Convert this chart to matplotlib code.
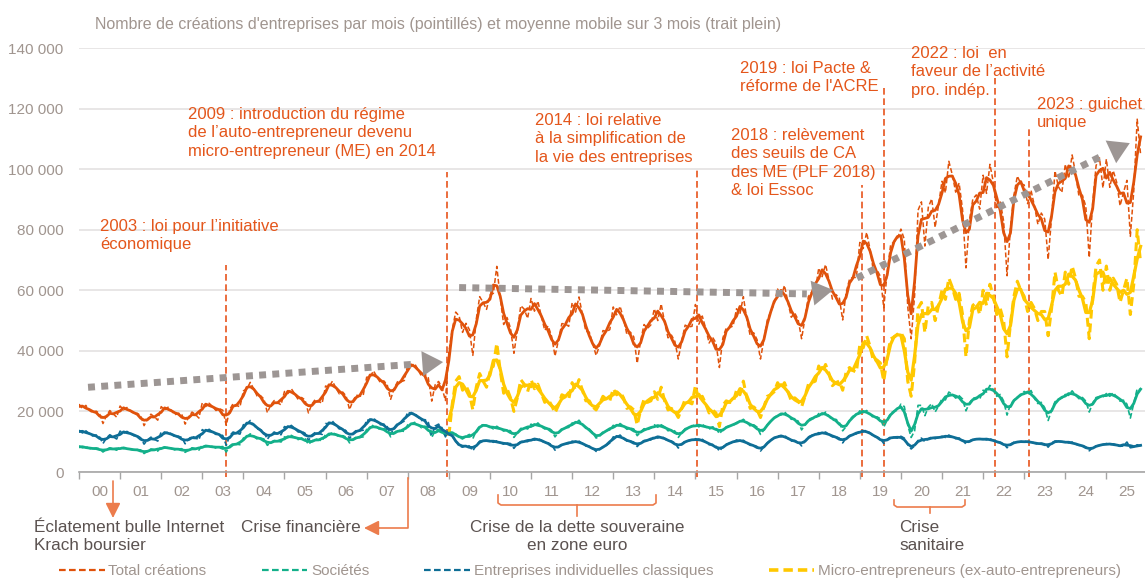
import numpy as np
import pandas as pd
import matplotlib
matplotlib.use("Agg")
import matplotlib.pyplot as plt
from matplotlib.lines import Line2D

plt.rcParams["font.family"] = ["Liberation Sans", "DejaVu Sans"]

# monthly business creations, thousands, Jan 2000 -> Nov 2025
societes = [
    8.6, 8.0, 8.4, 7.8, 7.6, 7.9, 7.7, 6.6, 7.4, 8.0, 7.6, 7.2,            # 2000
    8.3, 7.7, 7.9, 7.5, 7.2, 7.4, 7.3, 6.1, 6.8, 7.6, 7.4, 6.9,            # 2001
    8.4, 7.9, 8.1, 7.8, 7.3, 7.6, 7.7, 6.5, 7.2, 8.0, 7.7, 7.2,            # 2002
    8.9, 8.3, 8.6, 8.4, 7.9, 8.3, 8.4, 6.6, 8.6, 9.4, 9.2, 9.0,            # 2003
    11.2, 11.6, 12.6, 11.8, 10.9, 11.2, 10.9, 8.8, 9.8, 10.4, 10.2, 9.9,   # 2004
    11.6, 11.3, 12.1, 11.4, 10.7, 11.2, 11.0, 9.1, 10.2, 10.9, 10.6, 10.3, # 2005
    12.4, 12.1, 13.2, 12.3, 11.6, 12.0, 11.5, 9.6, 10.8, 11.6, 11.4, 11.6, # 2006
    14.1, 14.4, 15.6, 14.8, 13.9, 14.3, 13.8, 11.6, 12.9, 13.8, 13.6, 13.4, # 2007
    15.6, 15.8, 16.4, 15.6, 14.6, 15.1, 14.7, 11.4, 13.6, 14.1, 13.2, 12.0, # 2008
    13.6, 12.8, 12.6, 11.4, 10.9, 11.8, 12.4, 11.0, 13.6, 15.2, 15.6, 15.4, # 2009
    15.0, 14.2, 15.1, 14.3, 13.5, 14.0, 13.6, 11.4, 12.9, 14.4, 14.6, 14.2, # 2010
    15.8, 15.1, 16.2, 15.0, 14.2, 14.6, 13.8, 11.6, 13.1, 14.3, 14.6, 14.7, # 2011
    16.2, 16.0, 17.1, 15.6, 14.4, 14.2, 13.0, 11.2, 11.8, 13.3, 13.6, 13.9, # 2012
    15.4, 14.9, 16.0, 15.2, 14.1, 14.5, 14.2, 12.0, 13.2, 14.3, 14.0, 14.5, # 2013
    15.6, 14.8, 15.6, 14.9, 13.6, 14.0, 13.5, 11.4, 13.0, 14.3, 14.6, 15.0, # 2014
    15.8, 14.9, 15.7, 15.0, 14.1, 14.9, 14.6, 12.6, 14.0, 14.9, 15.2, 15.4, # 2015
    16.3, 16.6, 17.4, 16.4, 15.2, 15.6, 14.8, 12.4, 13.9, 15.6, 16.9, 17.8, # 2016
    18.9, 18.8, 19.9, 18.6, 17.4, 17.6, 16.8, 13.9, 15.6, 17.4, 17.8, 17.6, # 2017
    19.3, 18.9, 19.8, 18.5, 17.0, 17.4, 16.4, 13.6, 15.0, 17.2, 18.4, 18.6, # 2018
    20.2, 19.6, 20.3, 19.2, 17.8, 18.2, 17.6, 14.8, 17.2, 19.4, 20.1, 20.4, # 2019
    22.4, 21.6, 15.5, 11.4, 13.6, 22.0, 22.0, 18.6, 21.4, 22.6, 19.8, 21.8, # 2020
    24.2, 23.8, 26.4, 25.6, 24.4, 25.2, 24.1, 20.2, 22.8, 24.3, 24.6, 24.0, # 2021
    27.0, 26.4, 28.6, 27.2, 25.0, 25.6, 23.4, 18.8, 22.4, 23.6, 24.8, 25.2, # 2022
    26.6, 25.8, 26.9, 24.3, 22.6, 23.0, 21.2, 17.0, 20.4, 23.2, 24.0, 24.4, # 2023
    25.6, 25.3, 26.8, 25.4, 24.2, 24.6, 23.4, 19.8, 22.8, 24.6, 24.9, 24.8, # 2024
    25.9, 25.0, 26.2, 24.8, 23.4, 23.7, 22.4, 17.8, 22.6, 27.5, 27.2,       # 2025
]
ei_classiques = [
    13.8, 12.9, 13.6, 12.6, 11.9, 12.2, 11.6, 9.4, 11.2, 12.3, 11.6, 10.9,  # 2000
    13.5, 12.8, 13.4, 12.7, 12.0, 12.0, 11.3, 9.2, 10.6, 11.5, 10.8, 10.2,  # 2001
    13.2, 12.6, 13.3, 12.5, 11.6, 11.8, 11.4, 9.3, 10.9, 11.8, 11.3, 10.6,  # 2002
    14.0, 13.3, 14.1, 13.2, 12.4, 12.6, 12.0, 8.8, 12.0, 13.2, 12.8, 12.5,  # 2003
    15.6, 15.8, 17.0, 15.7, 14.2, 14.0, 13.2, 10.8, 12.4, 13.2, 12.6, 12.3, # 2004
    15.0, 14.6, 15.4, 14.4, 13.2, 13.4, 12.8, 10.4, 12.2, 13.1, 12.7, 12.4, # 2005
    16.0, 15.9, 16.8, 15.5, 14.2, 14.4, 13.6, 11.0, 12.8, 13.8, 13.6, 13.8, # 2006
    17.2, 17.0, 17.8, 16.6, 15.6, 15.8, 15.0, 12.4, 14.6, 16.0, 16.2, 16.8, # 2007
    19.8, 19.2, 19.4, 18.2, 17.0, 17.3, 16.4, 12.0, 15.2, 15.8, 14.6, 11.6, # 2008
    14.0, 11.8, 10.2, 8.6, 8.2, 8.8, 8.6, 7.0, 8.8, 10.2, 10.4, 10.3,       # 2009
    10.4, 9.8, 10.3, 9.7, 9.2, 9.5, 9.4, 7.8, 9.3, 10.0, 10.2, 10.0,        # 2010
    11.0, 10.5, 11.2, 10.4, 9.6, 9.6, 9.0, 7.2, 8.4, 9.2, 9.3, 9.4,         # 2011
    10.2, 9.8, 10.2, 9.4, 8.6, 8.5, 7.9, 6.8, 7.4, 8.4, 8.8, 9.6,           # 2012
    11.6, 11.5, 12.2, 11.0, 10.2, 10.2, 9.9, 8.4, 9.6, 10.4, 10.4, 10.6,    # 2013
    11.8, 11.2, 11.9, 11.0, 10.2, 10.2, 9.6, 7.9, 9.3, 10.2, 10.3, 10.6,    # 2014
    11.0, 10.4, 10.8, 9.9, 9.0, 9.1, 8.5, 6.9, 8.2, 9.2, 9.5, 9.8,          # 2015
    10.6, 10.1, 10.5, 9.6, 8.8, 8.9, 8.4, 6.9, 8.3, 9.6, 10.6, 11.2,        # 2016
    12.0, 11.6, 12.2, 11.0, 10.2, 10.4, 10.0, 8.6, 10.2, 11.6, 12.1, 12.2,  # 2017
    13.0, 12.6, 13.2, 12.4, 11.6, 11.7, 11.2, 9.6, 11.2, 12.0, 12.4, 12.6,  # 2018
    13.6, 13.2, 13.8, 12.8, 11.8, 11.6, 11.0, 9.4, 10.8, 11.6, 11.4, 11.2,  # 2019
    11.8, 11.2, 9.0, 7.6, 8.6, 10.4, 11.2, 10.0, 11.0, 11.6, 11.0, 11.4,    # 2020
    11.8, 11.4, 12.2, 11.6, 11.0, 11.2, 10.6, 9.2, 10.2, 10.8, 10.9, 10.8,  # 2021
    11.0, 10.6, 11.0, 10.4, 9.8, 9.8, 9.4, 8.0, 9.2, 9.8, 9.9, 10.0,        # 2022
    10.2, 9.8, 10.1, 9.5, 9.2, 9.5, 9.3, 8.2, 9.6, 10.2, 10.2, 9.9,         # 2023
    10.0, 9.6, 9.9, 9.2, 8.8, 8.8, 8.3, 7.0, 8.0, 8.6, 8.8, 9.0,            # 2024
    9.4, 9.0, 9.3, 8.9, 8.5, 8.6, 9.9, 8.0, 8.2, 9.0, 8.6,                  # 2025
]
# micro-entrepreneurs exist only from Jan 2009
micro = [
    12.0, 22.5, 30.0, 31.5, 27.0, 28.5, 26.0, 20.5, 28.0, 32.5, 30.0, 28.0, # 2009
    33.0, 35.0, 42.5, 33.5, 26.0, 27.5, 24.5, 20.0, 24.5, 30.5, 29.0, 26.5, # 2010
    30.5, 27.5, 29.0, 26.0, 23.0, 24.0, 22.0, 19.5, 22.0, 25.5, 25.0, 24.0, # 2011
    29.5, 27.0, 30.5, 27.0, 23.5, 23.5, 21.5, 20.5, 22.5, 25.0, 24.0, 23.5, # 2012
    27.5, 25.5, 26.5, 24.5, 21.0, 21.5, 20.5, 15.5, 20.5, 24.0, 23.0, 23.5, # 2013
    26.5, 24.0, 28.0, 23.5, 20.5, 21.0, 20.0, 18.0, 21.0, 24.0, 23.0, 22.5, # 2014
    28.5, 23.5, 25.0, 22.5, 19.5, 20.5, 19.5, 15.0, 22.0, 23.5, 23.0, 23.0, # 2015
    27.0, 25.5, 30.0, 24.5, 21.0, 21.5, 20.5, 18.0, 21.5, 25.0, 25.5, 26.5, # 2016
    29.5, 27.5, 29.5, 26.5, 23.5, 24.5, 23.5, 21.5, 25.0, 29.0, 29.5, 30.0, # 2017
    35.0, 33.0, 35.5, 32.5, 28.5, 29.5, 30.0, 27.0, 33.0, 34.5, 33.5, 33.0, # 2018
    42.0, 41.0, 45.0, 41.5, 36.5, 37.0, 36.0, 30.0, 38.0, 44.0, 44.5, 45.5, # 2019
    46.0, 44.0, 30.0, 25.0, 36.0, 54.0, 56.0, 46.0, 55.0, 56.0, 50.0, 55.0, # 2020
    60.0, 57.0, 64.0, 61.0, 57.0, 59.0, 52.0, 38.0, 50.0, 55.0, 56.0, 52.0, # 2021
    60.0, 55.0, 62.0, 58.0, 52.0, 54.0, 50.0, 38.0, 49.0, 58.0, 63.0, 60.0, # 2022
    58.0, 53.0, 56.0, 54.0, 50.0, 53.0, 53.0, 45.0, 54.0, 66.0, 60.0, 58.0, # 2023
    66.0, 62.0, 68.0, 64.0, 58.0, 58.0, 56.0, 44.0, 58.0, 68.0, 70.0, 60.0, # 2024
    68.0, 60.0, 64.0, 62.0, 56.0, 60.0, 64.0, 52.0, 62.0, 80.0, 69.0,       # 2025
]

# policy events: date (fractional year), top of the dashed marker, label
event_dates = [2003.57, 2008.95, 2015.05, 2019.05, 2019.58, 2022.29, 2023.12]
event_tops = [68400, 99000, 99700, 94800, 126800, 130000, 113600]
event_texts = [
    "2003 : loi pour l\u2019initiative\néconomique",
    "2009 : introduction du régime\nde l\u2019auto-entrepreneur devenu\nmicro-entrepreneur (ME) en 2014",
    "2014 : loi relative\nà la simplification de\nla vie des entreprises",
    "2018 : relèvement\ndes seuils de CA\ndes ME (PLF 2018)\n& loi Essoc",
    "2019 : loi Pacte &\nréforme de l'ACRE",
    "2022 : loi  en\nfaveur de l\u2019activité\npro. indép.",
    "2023 : guichet\nunique",
]
# top-left corner of each label, pixels
event_text_pos = [(100, 219), (188, 107), (535, 113), (731, 128), (740, 61), (911, 46), (1037, 97)]

# grey trend arrows: dotted start, dotted end, arrow tip (year, value)
trend_start = [(2000.22, 27970), (2009.25, 60900), (2018.93, 64060)]
trend_end = [(2008.17, 35600), (2017.71, 58800), (2024.84, 104000)]
trend_tip = [(2008.86, 36300), (2018.35, 60100), (2025.57, 108600)]

ORANGE = "#E0520B"
GREEN = "#13B08A"
BLUE = "#0E6E96"
YELLOW = "#FFC800"
TXT_OR = "#E4561B"
GREY_TXT = "#A0958F"
DARK_TXT = "#5B5250"
TREND = "#9D9694"

W, H = 1145, 580


def px(x, y):
    return x / W, 1 - y / H


n = len(societes)
dates = pd.date_range("2000-01-01", periods=n, freq="MS")
t = np.asarray(dates.year + (dates.month - 1) / 12)
soc = pd.Series(societes) * 1000
ei = pd.Series(ei_classiques) * 1000
me = pd.Series([np.nan] * (n - len(micro)) + micro) * 1000
total = soc + ei + me.fillna(0)  # total = sociétés + EI classiques + micro


def mm3(s):
    m = s.rolling(3, center=True, min_periods=1).mean()
    m[s.isna()] = np.nan
    return m


fig = plt.figure(figsize=(W / 100, H / 100), dpi=100)
ax = fig.add_axes([79 / W, 1 - 472 / H, (W - 79) / W, (472 - 48) / H])

dash_thin = (0, (3.2, 1.6))
series = [
    (total, ORANGE, 1.1, dash_thin, 2.0),
    (soc, GREEN, 1.2, dash_thin, 2.0),
    (ei, BLUE, 1.2, dash_thin, 2.0),
    (me, YELLOW, 2.2, (0, (2.9, 1.6)), 2.3),
]
for s, col, lw_d, ls_d, lw_m in series:
    ax.plot(t, s, color=col, lw=lw_d, ls=ls_d, zorder=3)
    ax.plot(t, mm3(s), color=col, lw=lw_m, zorder=4)

# event markers
for d, top in zip(event_dates, event_tops):
    ax.plot([d, d], [-1500, top], color="#E8541C", lw=1.2, ls=(0, (4, 2.2)),
            clip_on=False, zorder=2)
for txt, (x, y) in zip(event_texts, event_text_pos):
    fig.text(*px(x, y), txt, color=TXT_OR, fontsize=12, va="top", ha="left",
             linespacing=1.28)

# trend arrows
for (x0, y0), (x1, y1), tip in zip(trend_start, trend_end, trend_tip):
    ax.plot([x0, x1], [y0, y1], color=TREND, lw=5, ls=(0, (1, 0.9)),
            dash_capstyle="butt", zorder=5)
    ax.annotate("", xy=tip, xytext=(x1, y1),
                arrowprops=dict(arrowstyle="-|>,head_length=0.75,head_width=0.45",
                                color=TREND, lw=0, shrinkA=0, shrinkB=0,
                                mutation_scale=20), zorder=5)

ax.set_xlim(2000, 2025.94)
ax.set_ylim(0, 140000)
ax.set_yticks(np.arange(0, 140001, 20000))
ax.set_yticklabels([f"{v:,.0f}".replace(",", " ") for v in np.arange(0, 140001, 20000)])
ax.yaxis.grid(True, color="#E4E1E1", lw=1.2)
ax.set_axisbelow(True)
ax.tick_params(axis="y", length=0, pad=11, labelsize=11, labelcolor=GREY_TXT)

years = np.arange(2000, 2026)
ax.set_xticks(years)
ax.set_xticklabels([])
ax.set_xticks(years + 0.5, minor=True)
ax.set_xticklabels([f"{y % 100:02d}" for y in years], minor=True)
ax.tick_params(axis="x", which="major", length=5, width=1, color="#A6A6A6", direction="out")
ax.tick_params(axis="x", which="minor", length=0, pad=9, labelsize=11, labelcolor=GREY_TXT)
for side in ["top", "right", "left"]:
    ax.spines[side].set_visible(False)
ax.spines["bottom"].set_color("#A6A6A6")
ax.spines["bottom"].set_linewidth(1.2)

fig.text(*px(95, 24), "Nombre de créations d'entreprises par mois (pointillés) et moyenne "
         "mobile sur 3 mois (trait plein)", color=GREY_TXT, fontsize=11.5, va="center")

# crises below the axis
ARR = "#EC7C4C"
ax.annotate("", xy=px(113, 518), xytext=px(113, 481), xycoords="figure fraction",
            textcoords="figure fraction",
            arrowprops=dict(arrowstyle="-|>,head_length=0.9,head_width=0.45",
                            color=ARR, lw=1.2, shrinkA=0, shrinkB=0, mutation_scale=10))
fig.add_artist(Line2D([408 / W, 408 / W, 378 / W], [1 - 478 / H, 1 - 528 / H, 1 - 528 / H],
                      color=ARR, lw=1.2))
ax.annotate("", xy=px(364, 528), xytext=px(379, 528), xycoords="figure fraction",
            textcoords="figure fraction",
            arrowprops=dict(arrowstyle="-|>,head_length=0.9,head_width=0.45",
                            color=ARR, lw=1.2, shrinkA=0, shrinkB=0, mutation_scale=10))


def brace(x0, x1, y0, y1, tick):
    xm = (x0 + x1) / 2
    xs = [x0, x0, x0 + 3, x1 - 3, x1, x1]
    ys = [y0, y1 - 2, y1, y1, y1 - 2, y0]
    fig.add_artist(Line2D([x / W for x in xs], [1 - y / H for y in ys], color=ARR, lw=1.2))
    fig.add_artist(Line2D([xm / W, xm / W], [1 - y1 / H, 1 - tick / H], color=ARR, lw=1.2))


brace(498, 656, 495, 505, 516)
brace(894, 965, 500, 507, 513)

fig.text(*px(34, 520), "Éclatement bulle Internet\nKrach boursier", color=DARK_TXT,
         fontsize=12.3, va="top", linespacing=1.25)
fig.text(*px(241, 520), "Crise financière", color=DARK_TXT, fontsize=12.3, va="top")
fig.text(*px(577, 520), "Crise de la dette souveraine\nen zone euro", color=DARK_TXT,
         fontsize=12.3, va="top", ha="center", multialignment="center", linespacing=1.25)
fig.text(*px(899, 520), "Crise\nsanitaire", color=DARK_TXT, fontsize=12.3, va="top",
         linespacing=1.25)

handles = [
    Line2D([], [], color=ORANGE, lw=1.6, ls=(0, (3, 1.5))),
    Line2D([], [], color=GREEN, lw=1.6, ls=(0, (3, 1.5))),
    Line2D([], [], color=BLUE, lw=1.6, ls=(0, (3, 1.5))),
    Line2D([], [], color=YELLOW, lw=2.6, ls=(0, (2.6, 1.4))),
]
labels = ["Total créations", "Sociétés", "Entreprises individuelles classiques",
          "Micro-entrepreneurs (ex-auto-entrepreneurs)"]
leg = fig.legend(handles, labels, loc="center", bbox_to_anchor=px(590, 571), ncol=4,
                 frameon=False, fontsize=11, handlelength=3.0, handletextpad=0.25,
                 columnspacing=3.6, borderpad=0, borderaxespad=0)
for txt in leg.get_texts():
    txt.set_color(GREY_TXT)

fig.savefig("out.png", dpi=100)
